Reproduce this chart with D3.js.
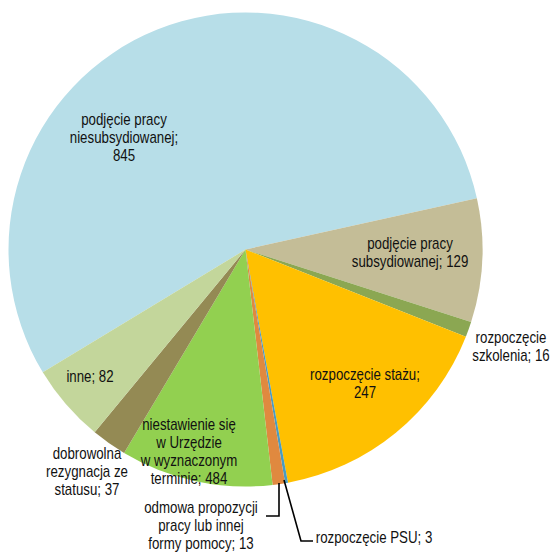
<!DOCTYPE html>
<html>
<head>
<meta charset="utf-8">
<script src="https://cdn.jsdelivr.net/npm/d3@7"></script>
<style>
  html, body { margin: 0; padding: 0; background: #fff; }
  svg text { font-family: "Liberation Sans Narrow", "Arial Narrow", "Liberation Sans", Arial, sans-serif; font-size: 16px; fill: #111; }
</style>
</head>
<body>
<svg id="chart" width="552" height="552"></svg>
<script>
// categories, clockwise from the big slice
const categories = [
    ['podjęcie pracy', 'niesubsydiowanej;'],
    ['podjęcie pracy', 'subsydiowanej;'],
    ['rozpoczęcie', 'szkolenia;'],
    ['rozpoczęcie stażu;'],
    ['rozpoczęcie PSU;'],
    ['odmowa propozycji', 'pracy lub innej', 'formy pomocy;'],
    ['niestawienie się', 'w Urzędzie', 'w wyznaczonym', 'terminie;'],
    ['dobrowolna', 'rezygnacja ze', 'statusu;'],
    ['inne;']
];
// values printed in the labels
const values = [845, 129, 16, 247, 3, 13, 484, 37, 82];
// slice sizes as drawn in the picture (the 484 slice is drawn much smaller)
const drawnValues = [845, 129, 16, 247, 3, 13, 159, 37, 82];
const colors = ['#b7dee8', '#c4bd97', '#8ba752', '#ffc000', '#4a9cc0', '#e0893f', '#92d050', '#948a54', '#c3d69b'];

// label layout: x center, y of first line, whether value goes on its own line
const labelLayout = [
    { x: 124, y: 121, valueOwnLine: true },
    { x: 410, y: 245, valueOwnLine: false },
    { x: 511, y: 339, valueOwnLine: false },
    { x: 365, y: 376, valueOwnLine: true },
    { x: 374, y: 539, valueOwnLine: false },
    { x: 201, y: 509, valueOwnLine: false },
    { x: 189, y: 426, valueOwnLine: false },
    { x: 87, y: 455, valueOwnLine: false },
    { x: 90, y: 378, valueOwnLine: false }
];
// leader lines (for the two thin slices)
const leaders = {
    5: [[279, 483], [279, 516], [266, 516]],
    4: [[284, 480], [301, 541], [313, 541]]
};

const cx = 245.5, cy = 249.5, radius = 237, lineHeight = 18;
const svg = d3.select('#chart');

const pie = d3.pie()
    .sort(null)
    .value(d => d)
    .startAngle(-121.2 * Math.PI / 180)
    .endAngle((360 - 121.2) * Math.PI / 180);
const arc = d3.arc().innerRadius(0).outerRadius(radius);

const g = svg.append('g').attr('transform', `translate(${cx},${cy})`);
g.selectAll('path')
    .data(pie(drawnValues))
    .join('path')
    .attr('d', arc)
    .attr('fill', (d, i) => colors[i]);

const line = d3.line();
Object.entries(leaders).forEach(([i, pts]) => {
    svg.append('path')
        .attr('d', line(pts))
        .attr('fill', 'none')
        .attr('stroke', '#000')
        .attr('stroke-width', 1.6);
});

// no narrow font installed, so squeeze the regular one
const squeeze = 0.83;
categories.forEach((lines, i) => {
    const L = labelLayout[i];
    const rows = lines.slice();
    if (L.valueOwnLine) {
        rows.push(String(values[i]));
    } else {
        rows[rows.length - 1] += ' ' + values[i];
    }
    const t = svg.append('text')
        .attr('transform', `translate(${L.x},0) scale(${squeeze},1)`)
        .attr('text-anchor', 'middle')
        .attr('dominant-baseline', 'middle');
    rows.forEach((r, j) => {
        t.append('tspan')
            .attr('x', 0)
            .attr('y', L.y + j * lineHeight)
            .text(r);
    });
});
</script>
</body>
</html>
